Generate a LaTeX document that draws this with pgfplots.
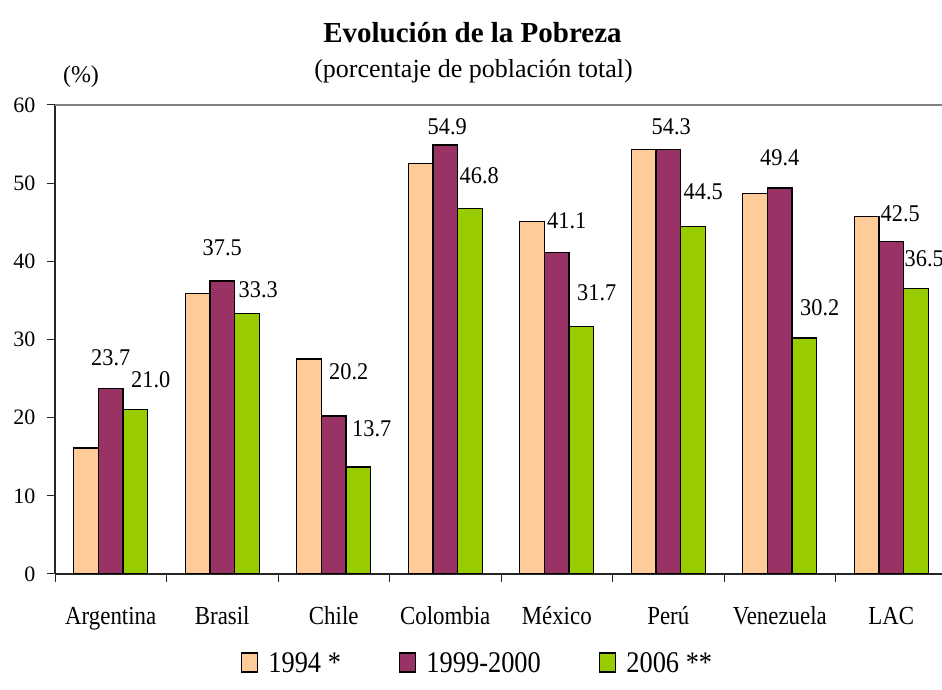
\documentclass[border=0pt]{standalone}
\usepackage{pgfplots}
\pgfplotsset{compat=1.18}
\usepackage{pgfplotstable}
\usepackage{fontspec}
\setmainfont{Liberation Serif}
\newfontfamily\cond{Liberation Serif}[FakeStretch=0.88]
\newfontfamily\condb{Liberation Serif}[FakeStretch=0.93]
\definecolor{c94}{RGB}{255,204,153}
\definecolor{c99}{RGB}{153,51,102}
\definecolor{c06}{RGB}{153,204,0}
\pgfplotstableread{
x y1 y2 y3 dxb dyb dxc dyc
0 16.1 23.7 21.0 0 31 40 30
1 35.9 37.5 33.3 0 33 36 23.5
2 27.5 20.2 13.7 15 44 38 38
3 52.5 54.9 46.8 2 18 34 32
4 45.1 41.1 31.7 10 32 40 33
5 54.3 54.3 44.5 3 23 35 34
6 48.7 49.4 30.2 0 30 40 30
7 45.7 42.5 36.5 9 28 33 30
}\data
\begin{document}
\begin{tikzpicture}[x=1pt,y=1pt]
\path[use as bounding box] (0,0) rectangle (942,690);
\node[anchor=base,font=\bfseries\fontsize{29}{29}\selectfont] at (472.5,647) {Evolución de la Pobreza};
\node[anchor=base,font=\fontsize{26}{26}\selectfont] at (473.5,612) {(porcentaje de población total)};
\node[anchor=base,font=\fontsize{24}{24}\selectfont] at (81,607) {(\%)};
\begin{axis}[
  at={(55pt,116pt)}, anchor=south west,
  scale only axis, width=892pt, height=469pt,
  xmin=-0.5, xmax=7.5, ymin=0, ymax=60,
  axis x line*=bottom, axis y line*=left,
  axis line style={black!85, line width=1.1pt},
  /pgf/number format/assume math mode=true,
  ytick={0,10,...,60},
  xtick={0,...,7},
  xticklabels={Argentina,Brasil,Chile,Colombia,México,Perú,Venezuela,LAC},
  minor xtick={-0.5,0.5,...,7.5},
  tick align=outside,
  major tick length=8pt, minor tick length=8pt,
  major x tick style={draw=none},
  tick style={black!85, line width=1pt},
  yticklabel style={font=\fontsize{22}{22}\selectfont, xshift=-8pt},
  xticklabel style={font=\cond\fontsize{26}{26}\selectfont, anchor=base, yshift=-43pt},
  legend columns=3,
  legend style={draw=none, fill=none, at={(0.4737,-0.1898)}, anchor=center,
    font=\cond\fontsize{30}{30}\selectfont,
    /tikz/every even column/.append style={column sep=56pt},
    /tikz/every odd column/.append style={column sep=8pt}},
  legend image code/.code={\draw[#1,draw=black,line width=1.5pt] (0pt,-9pt) rectangle (16pt,10pt);},
  every node near coord/.append style={text=black, font=\condb\fontsize{24}{24}\selectfont},
]
\addplot[ybar, bar width=0.2215, bar shift=-0.2215, fill=c94, draw=black, line width=1.3pt]
  table[x=x,y=y1]{\data};
\addplot[ybar, bar width=0.2215, bar shift=0, fill=c99, draw=black, line width=1.3pt,
  point meta=y,
  nodes near coords={\pgfmathprintnumber[fixed,fixed zerofill,precision=1]{\pgfplotspointmeta}},
  visualization depends on={\thisrow{dxb}\as\mydx},
  visualization depends on={\thisrow{dyb}\as\mydy},
  every node near coord/.append style={anchor=center, xshift=\mydx pt, yshift=\mydy pt}]
  table[x=x,y=y2]{\data};
\addplot[ybar, bar width=0.2215, bar shift=0.2215, fill=c06, draw=black, line width=1.3pt,
  point meta=y,
  nodes near coords={\pgfmathprintnumber[fixed,fixed zerofill,precision=1]{\pgfplotspointmeta}},
  visualization depends on={\thisrow{dxc}\as\mydx},
  visualization depends on={\thisrow{dyc}\as\mydy},
  every node near coord/.append style={anchor=center, xshift=\mydx pt, yshift=\mydy pt}]
  table[x=x,y=y3]{\data};
\legend{1994 *,1999-2000,2006 **}
\draw[gray, line width=1.1pt] (rel axis cs:0,1) -- (rel axis cs:1,1);
\end{axis}
\end{tikzpicture}
\end{document}
